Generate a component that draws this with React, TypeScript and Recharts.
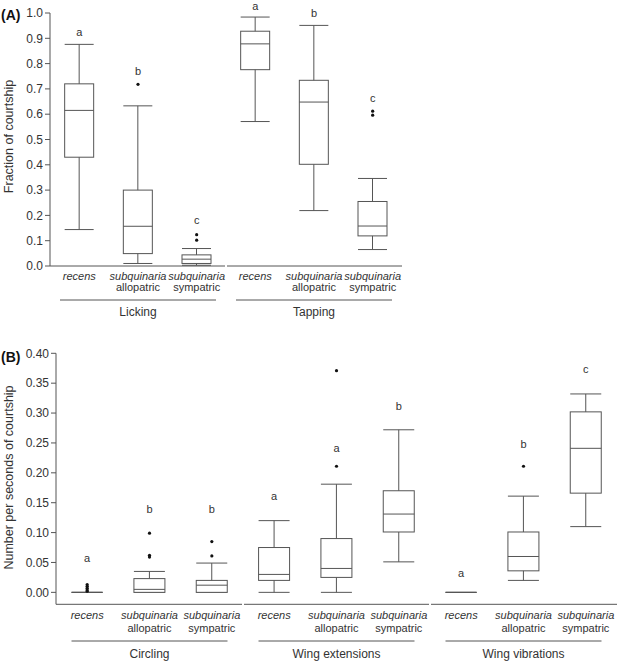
import {
  ComposedChart,
  Bar,
  Line,
  XAxis,
  YAxis,
  LabelList,
} from "recharts";

// species labels repeat inside every behaviour group
const speciesTop = ["recens", "subquinaria", "subquinaria"];
const speciesSub = ["", "allopatric", "sympatric"];

// (A) fraction of courtship
const groupsA = ["Licking", "Tapping"];
const lowA = [0.144, 0.01, 0.003, 0.571, 0.219, 0.065];
const q1A = [0.43, 0.049, 0.01, 0.776, 0.402, 0.119];
const medA = [0.615, 0.157, 0.027, 0.878, 0.648, 0.158];
const q3A = [0.72, 0.3, 0.044, 0.928, 0.734, 0.255];
const highA = [0.876, 0.633, 0.069, 0.984, 0.951, 0.346];
const outA = [[], [0.718], [0.124, 0.102], [], [], [0.612, 0.596]];
const lettersA = ["a", "b", "c", "a", "b", "c"];
const letterAtA = [0.925, 0.77, 0.181, 1.028, 1.0, 0.665];
const ticksA = [0, 0.1, 0.2, 0.3, 0.4, 0.5, 0.6, 0.7, 0.8, 0.9, 1.0];

// (B) number per seconds of courtship
const groupsB = ["Circling", "Wing extensions", "Wing vibrations"];
const lowB = [0, 0, 0, 0, 0, 0.051, 0, 0.02, 0.11];
const q1B = [0, 0, 0, 0.02, 0.025, 0.101, 0, 0.036, 0.166];
const medB = [0, 0.005, 0.012, 0.03, 0.04, 0.131, 0, 0.06, 0.241];
const q3B = [0, 0.023, 0.02, 0.075, 0.09, 0.17, 0, 0.101, 0.302];
const highB = [0, 0.035, 0.049, 0.12, 0.181, 0.272, 0, 0.161, 0.332];
const outB = [
  [0.013, 0.01, 0.007, 0.004, 0.002],
  [0.099, 0.062, 0.059],
  [0.085, 0.061],
  [],
  [0.371, 0.211],
  [],
  [],
  [0.211],
  [],
];
const lettersB = ["a", "b", "b", "a", "a", "b", "a", "b", "c"];
const letterAtB = [0.057, 0.139, 0.139, 0.161, 0.241, 0.311, 0.033, 0.249, 0.374];
const ticksB = [0, 0.05, 0.1, 0.15, 0.2, 0.25, 0.3, 0.35, 0.4];

const FONT = '"Liberation Sans", Arial, Helvetica, sans-serif';
const INK = "#333";
const LINE = "#555";
const OUT_KEYS = ["o0", "o1", "o2", "o3", "o4"];

function buildRows(
  low: number[],
  q1: number[],
  med: number[],
  q3: number[],
  high: number[],
  outs: number[][],
  letters: string[],
  letterAt: number[]
) {
  return low.map((_, i) => {
    const row: Record<string, any> = {
      id: `c${i}`,
      whisker: [low[i], high[i]],
      box: [q1[i], q3[i]],
      median: [med[i], med[i]],
      letter: letters[i],
      letterAt: letterAt[i],
    };
    outs[i].forEach((v, j) => {
      row[OUT_KEYS[j]] = v;
    });
    return row;
  });
}

const rowsA = buildRows(lowA, q1A, medA, q3A, highA, outA, lettersA, letterAtA);
const rowsB = buildRows(lowB, q1B, medB, q3B, highB, outB, lettersB, letterAtB);

const WhiskerShape = (p: any) => {
  const { x, y, width, height } = p;
  const cx = x + width / 2;
  return (
    <g stroke={LINE} strokeWidth={1}>
      <line x1={cx} x2={cx} y1={y} y2={y + height} />
      <line x1={x} x2={x + width} y1={y} y2={y} />
      <line x1={x} x2={x + width} y1={y + height} y2={y + height} />
    </g>
  );
};

const BoxShape = (p: any) => {
  const { x, y, width, height } = p;
  return (
    <rect
      x={x}
      y={y}
      width={width}
      height={Math.max(height, 0)}
      fill="#fff"
      stroke={LINE}
      strokeWidth={1}
    />
  );
};

const MedianShape = (p: any) => {
  const { x, y, width } = p;
  return <line x1={x} x2={x + width} y1={y} y2={y} stroke={LINE} strokeWidth={1} />;
};

const OutlierDot = (p: any) => {
  const { cx, cy } = p;
  if (cx == null || cy == null || Number.isNaN(cy)) return <g />;
  return <circle cx={cx} cy={cy} r={1.6} fill="#111" />;
};

const LetterLabel = (p: any) => {
  const { x, y, value } = p;
  if (x == null || y == null) return null;
  return (
    <text
      x={x}
      y={y + 4}
      textAnchor="middle"
      fontSize={11}
      fill={INK}
      fontFamily={FONT}
    >
      {value}
    </text>
  );
};

interface TickOffsets {
  l1: number;
  l2: number;
  gl: number;
  gt: number;
  band: number;
}

// category tick; the middle tick of each group also draws the group rule,
// the group name and its piece of the (broken) baseline
const makeCatTick = (groups: string[], off: TickOffsets) => (props: any) => {
  const { x, y, payload } = props;
  const i = props.index ?? payload.index;
  const k = i % 3;
  const g = Math.floor(i / 3);
  const half = 1.5 * off.band;
  return (
    <g fontFamily={FONT} fill={INK}>
      <text x={x} y={y + off.l1} textAnchor="middle" fontSize={11} fontStyle="italic">
        {speciesTop[k]}
      </text>
      {speciesSub[k] && (
        <text x={x} y={y + off.l2} textAnchor="middle" fontSize={11}>
          {speciesSub[k]}
        </text>
      )}
      {k === 1 && (
        <>
          <line
            x1={x - half + (g > 0 ? 1 : 0)}
            x2={x + half - (g < groups.length - 1 ? 1 : 0)}
            y1={y}
            y2={y}
            stroke={LINE}
            strokeWidth={1}
          />
          <line
            x1={x - 78}
            x2={x + 78}
            y1={y + off.gl}
            y2={y + off.gl}
            stroke={LINE}
            strokeWidth={1}
          />
          <text x={x} y={y + off.gt} textAnchor="middle" fontSize={12}>
            {groups[g]}
          </text>
        </>
      )}
    </g>
  );
};

interface PanelProps {
  rows: Record<string, any>[];
  groups: string[];
  width: number;
  height: number;
  margin: { top: number; right: number; bottom: number; left: number };
  yWidth: number;
  xHeight: number;
  domain: [number, number];
  ticks: number[];
  digits: number;
  off: TickOffsets;
}

function BoxPanel(p: PanelProps) {
  return (
    <ComposedChart
      width={p.width}
      height={p.height}
      data={p.rows}
      margin={p.margin}
      barCategoryGap="25%"
      style={{ fontFamily: FONT }}
    >
      <XAxis
        xAxisId="main"
        dataKey="id"
        type="category"
        interval={0}
        height={p.xHeight}
        tickLine={false}
        tickSize={0}
        tickMargin={0}
        axisLine={false}
        tick={makeCatTick(p.groups, p.off)}
      />
      <XAxis xAxisId="wh" dataKey="id" type="category" hide height={0} />
      <XAxis xAxisId="bx" dataKey="id" type="category" hide height={0} />
      <XAxis xAxisId="md" dataKey="id" type="category" hide height={0} />
      <YAxis
        type="number"
        domain={p.domain}
        ticks={p.ticks}
        allowDataOverflow
        width={p.yWidth}
        tickSize={5}
        tickMargin={2}
        tickLine={{ stroke: LINE }}
        axisLine={{ stroke: LINE }}
        tick={{ fontSize: 12, fill: INK, fontFamily: FONT }}
        tickFormatter={(v: number) => v.toFixed(p.digits)}
      />
      <Bar
        xAxisId="wh"
        dataKey="whisker"
        shape={WhiskerShape}
        isAnimationActive={false}
      />
      <Bar xAxisId="bx" dataKey="box" shape={BoxShape} isAnimationActive={false} />
      <Bar
        xAxisId="md"
        dataKey="median"
        shape={MedianShape}
        isAnimationActive={false}
      />
      {OUT_KEYS.map((k) => (
        <Line
          key={k}
          xAxisId="main"
          dataKey={k}
          stroke="none"
          dot={OutlierDot}
          activeDot={false}
          isAnimationActive={false}
        />
      ))}
      <Line
        xAxisId="main"
        dataKey="letterAt"
        stroke="none"
        dot={false}
        activeDot={false}
        isAnimationActive={false}
      >
        <LabelList dataKey="letter" content={LetterLabel} />
      </Line>
    </ComposedChart>
  );
}

export default function App() {
  return (
    <div
      style={{
        position: "absolute",
        left: 0,
        top: 0,
        width: 620,
        height: 661,
        background: "#fff",
        fontFamily: FONT,
        color: INK,
      }}
    >
      <div style={{ position: "absolute", left: 0, top: 0 }}>
        <BoxPanel
          rows={rowsA}
          groups={groupsA}
          width={620}
          height={325}
          margin={{ top: 13, right: 218, bottom: 0, left: 0 }}
          yWidth={50}
          xHeight={59}
          domain={[0, 1]}
          ticks={ticksA}
          digits={1}
          off={{ l1: 14, l2: 25, gl: 34, gt: 49.5, band: 352 / 6 }}
        />
      </div>
      <div style={{ position: "absolute", left: 0, top: 325 }}>
        <BoxPanel
          rows={rowsB}
          groups={groupsB}
          width={620}
          height={336}
          margin={{ top: 28.3, right: 3, bottom: 0, left: 0 }}
          yWidth={56}
          xHeight={56.7}
          domain={[-0.02, 0.4]}
          ticks={ticksB}
          digits={2}
          off={{ l1: 15, l2: 27.4, gl: 36.7, gt: 53.4, band: 561 / 9 }}
        />
      </div>
      <svg
        width={620}
        height={661}
        style={{ position: "absolute", left: 0, top: 0, pointerEvents: "none" }}
      >
        <text x={1} y={20} fontSize={14} fontWeight="bold" fill="#111" fontFamily={FONT}>
          (A)
        </text>
        <text x={1} y={362} fontSize={14} fontWeight="bold" fill="#111" fontFamily={FONT}>
          (B)
        </text>
        <text
          x={12.5}
          y={136.5}
          transform="rotate(-90 12.5 136.5)"
          textAnchor="middle"
          fontSize={12.5}
          fill={INK}
          fontFamily={FONT}
        >
          Fraction of courtship
        </text>
        <text
          x={13}
          y={477.5}
          transform="rotate(-90 13 477.5)"
          textAnchor="middle"
          fontSize={12.5}
          fill={INK}
          fontFamily={FONT}
        >
          Number per seconds of courtship
        </text>
      </svg>
    </div>
  );
}
